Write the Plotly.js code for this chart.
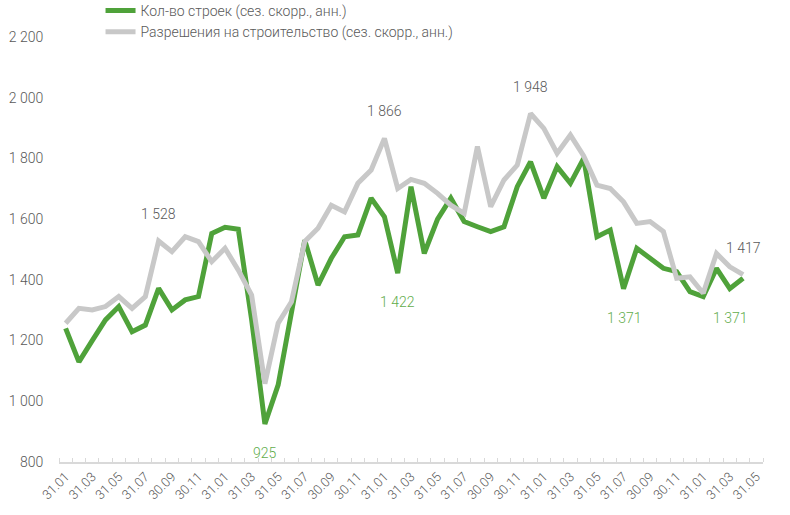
<!DOCTYPE html>
<html>
<head>
<meta charset="utf-8">
<script src="https://cdn.plot.ly/plotly-3.0.1.min.js"></script>
<style>html,body{margin:0;padding:0;background:#fff;}#chart{width:790px;height:515px;}</style>
</head>
<body>
<div id="chart"></div>
<script>
// Monthly categories (end-of-month dates), Jan 2019 .. May 2023
const dates = [
  "31.01.2019","28.02.2019","31.03.2019","30.04.2019","31.05.2019","30.06.2019","31.07.2019","31.08.2019","30.09.2019","31.10.2019","30.11.2019","31.12.2019",
  "31.01.2020","29.02.2020","31.03.2020","30.04.2020","31.05.2020","30.06.2020","31.07.2020","31.08.2020","30.09.2020","31.10.2020","30.11.2020","31.12.2020",
  "31.01.2021","28.02.2021","31.03.2021","30.04.2021","31.05.2021","30.06.2021","31.07.2021","31.08.2021","30.09.2021","31.10.2021","30.11.2021","31.12.2021",
  "31.01.2022","28.02.2022","31.03.2022","30.04.2022","31.05.2022","30.06.2022","31.07.2022","31.08.2022","30.09.2022","31.10.2022","30.11.2022","31.12.2022",
  "31.01.2023","28.02.2023","31.03.2023","30.04.2023","31.05.2023"
];

// Housing starts (seasonally adjusted, annualized, thousands)
const starts = [
  1240,1130,1200,1268,1312,1229,1251,1372,1301,1334,1345,1553,
  1573,1567,1270,925,1054,1290,1531,1383,1471,1542,1548,1669,
  1608,1422,1707,1487,1600,1669,1592,1575,1559,1575,1707,1789,
  1669,1773,1718,1800,1542,1564,1371,1504,1471,1438,1427,1361,
  1345,1438,1371,1405
];

// Building permits (seasonally adjusted, annualized, thousands)
const permits = [
  1257,1306,1301,1312,1345,1306,1345,1528,1493,1542,1526,1460,
  1504,1432,1350,1058,1257,1328,1526,1570,1646,1624,1718,1762,
  1866,1701,1731,1718,1685,1646,1619,1839,1641,1729,1778,1948,
  1899,1817,1877,1808,1712,1701,1657,1586,1592,1559,1405,1410,
  1356,1487,1443,1417
];

const seriesNames = ["Кол-во строек (сез. скорр., анн.)", "Разрешения на строительство (сез. скорр., анн.)"];

// Labelled points (category indices)
const labelledStarts = [15, 25, 42, 50];
const labelledPermits = [7, 24, 35, 51];

const yTickVals = [800, 1000, 1200, 1400, 1600, 1800, 2000, 2200];

const fmt = v => {
  const s = String(Math.round(v));
  return s.length > 3 ? s.slice(0, s.length - 3) + " " + s.slice(-3) : s;
};

const idx = dates.map((d, i) => i);
const xTickVals = idx.filter(i => i % 2 === 0);
const xTickText = xTickVals.map(i => dates[i].slice(0, 5));

const GREEN = "#4fa23a";
const GREEN_TXT = "#62ad4c";
const GRAY = "#c8c8c8";
const TXT = "#595959";
const FONT = "Roboto, 'Liberation Sans', sans-serif";

const traces = [
  {
    x: idx.slice(0, starts.length), y: starts, name: seriesNames[0],
    type: "scatter", mode: "lines",
    line: {color: GREEN, width: 5, shape: "linear"},
    hoverinfo: "skip"
  },
  {
    x: idx.slice(0, permits.length), y: permits, name: seriesNames[1],
    type: "scatter", mode: "lines",
    line: {color: GRAY, width: 5, shape: "linear"},
    hoverinfo: "skip"
  }
];

const annotations = [];
labelledStarts.forEach(i => annotations.push({
  x: i, y: starts[i], xref: "x", yref: "y", text: fmt(starts[i]),
  showarrow: false, yshift: -29, font: {family: FONT, size: 14, color: GREEN_TXT, weight: 300}
}));
labelledPermits.forEach(i => annotations.push({
  x: i, y: permits[i], xref: "x", yref: "y", text: fmt(permits[i]),
  showarrow: false, yshift: 27, font: {family: FONT, size: 14, color: TXT, weight: 300}
}));

const layout = {
  width: 790, height: 515,
  margin: {l: 59, r: 27, t: 37, b: 53, autoexpand: false},
  paper_bgcolor: "#ffffff", plot_bgcolor: "#ffffff",
  font: {family: FONT, size: 14, color: TXT, weight: 300},
  showlegend: true,
  legend: {
    x: 0.059, y: 1.099, xanchor: "left", yanchor: "top",
    orientation: "v", font: {family: FONT, size: 14, color: TXT, weight: 300},
    bgcolor: "rgba(0,0,0,0)", tracegroupgap: 0, itemwidth: 30
  },
  xaxis: {
    range: [-0.5, dates.length - 0.5],
    tickvals: xTickVals, ticktext: xTickText, tickangle: -45,
    tickfont: {family: FONT, size: 13, color: TXT, weight: 300},
    ticks: "", showgrid: false, zeroline: false,
    showline: true, linecolor: "#d9d9d9", linewidth: 2,
    minor: {tick0: -0.5, dtick: 1, ticks: "inside", ticklen: 4, tickcolor: "#d9d9d9", tickwidth: 1, showgrid: false}
  },
  yaxis: {
    range: [800, 2200],
    tickvals: yTickVals, ticktext: yTickVals.map(fmt),
    tickfont: {family: FONT, size: 14, color: TXT, weight: 300},
    ticks: "outside", ticklen: 12, tickcolor: "rgba(0,0,0,0)",
    showgrid: false, zeroline: false, showline: false
  },
  annotations: annotations
};

Plotly.newPlot("chart", traces, layout, {displayModeBar: false, staticPlot: true});
</script>
</body>
</html>
